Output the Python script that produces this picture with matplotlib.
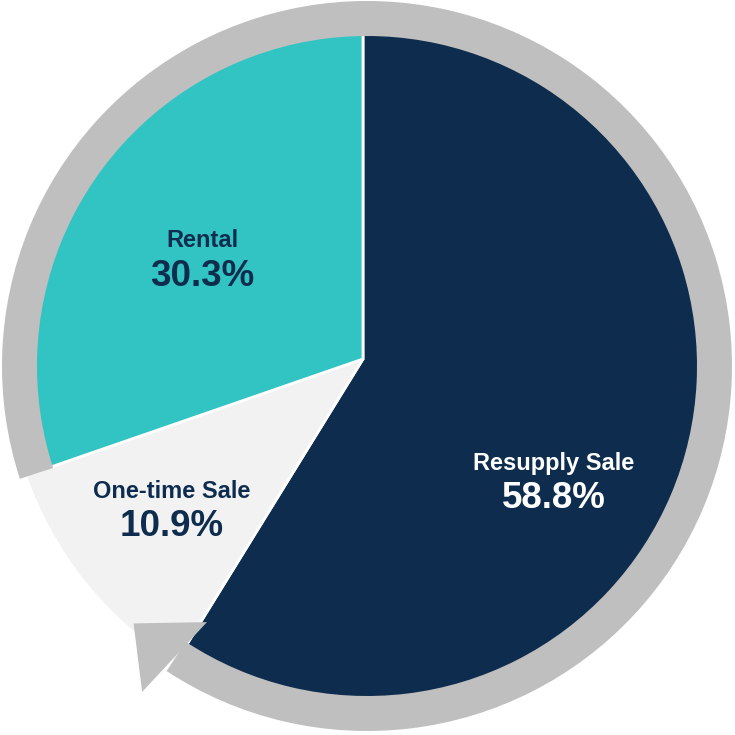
import numpy as np
import matplotlib
matplotlib.use('Agg')
from matplotlib import pyplot as plt
from matplotlib.patches import Wedge, Polygon

plt.rcParams['font.family'] = ['Liberation Sans', 'DejaVu Sans']

# data
categories = ['Resupply Sale', 'One-time Sale', 'Rental']
shares = [58.8, 10.9, 30.3]
colors = ['#0E2D4E', '#F2F2F2', '#31C4C2']
text_colors = ['white', '#0E2D4E', '#0E2D4E']

H = 735.0

def img(x, y):
    # picture pixel coords -> axes data coords (y up)
    return (x, H - y)

fig = plt.figure(figsize=(7.35, 7.35), dpi=100)
ax = fig.add_axes([0, 0, 1, 1])

vertex = img(363, 359)
ring_c = img(367, 366)

ax.pie(shares, colors=colors, startangle=90, counterclock=False,
       center=vertex, radius=357,
       wedgeprops=dict(edgecolor='white', linewidth=2))

# gray circular arrow laid over the pie rim
gray = '#BFBFBF'
ring = Wedge(ring_c, 365, -123.3, 198, width=35, facecolor=gray,
             edgecolor='none', zorder=5)
ax.add_patch(ring)

def polar(ang, r):
    a = np.deg2rad(ang)
    return (ring_c[0] + r * np.cos(a), ring_c[1] + r * np.sin(a))

head = Polygon([polar(-122.0, 302), polar(-124.6, 396), polar(-132.2, 347.5)],
               closed=True, facecolor=gray, edgecolor='none', zorder=5)
ax.add_patch(head)

# labels
label_pos = [(554, 463), (172, 491), (202, 240)]
for cat, val, pos, tc in zip(categories, shares, label_pos, text_colors):
    x, y = img(*pos)
    ax.text(x, y, cat, ha='center', va='center', fontsize=17,
            fontweight='bold', color=tc, zorder=6)
    ax.text(x, y - 36, '%.1f%%' % val, ha='center', va='center', fontsize=26.5,
            fontweight='bold', color=tc, zorder=6)

ax.set_xlim(0, H)
ax.set_ylim(0, H)
ax.set_aspect('equal')
ax.axis('off')

plt.savefig('out.png', dpi=100)
